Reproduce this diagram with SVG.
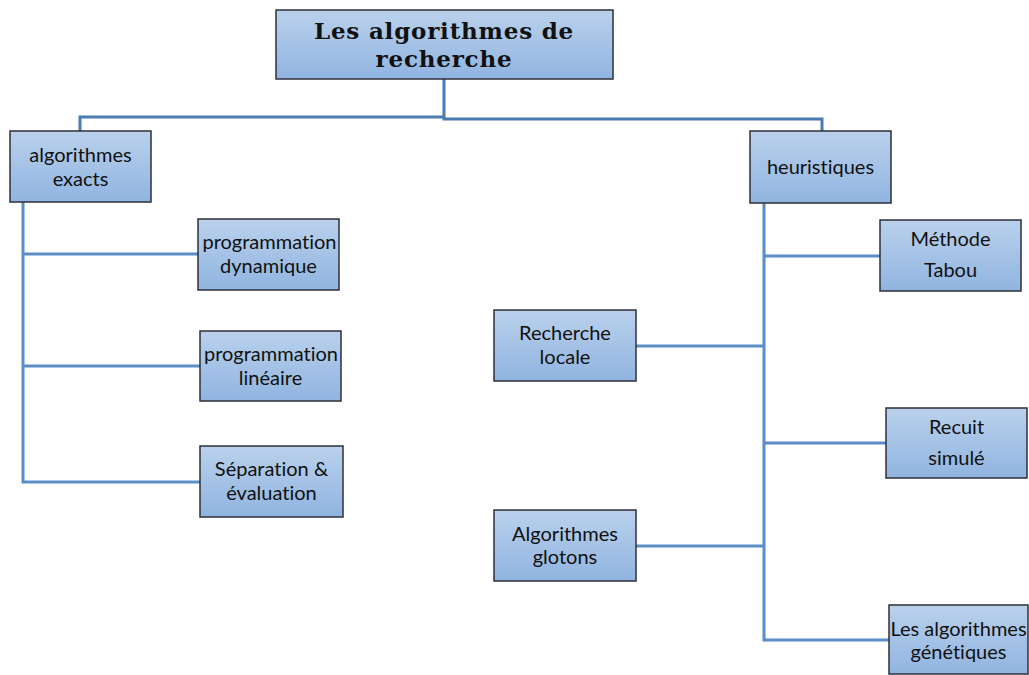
<svg xmlns="http://www.w3.org/2000/svg" width="1029" height="675" viewBox="0 0 1029 675">
  <defs>
    <linearGradient id="boxFill" x1="0" y1="0" x2="0" y2="1">
      <stop offset="0" stop-color="#bad1ec"/>
      <stop offset="1" stop-color="#90b4e0"/>
    </linearGradient>
    <style>
      .box { fill: url(#boxFill); stroke: #2e3138; stroke-width: 1.5; }
      .lbl { font-family: Lato, "Open Sans", sans-serif; font-size: 20px; fill: #111; text-anchor: middle; font-variant-ligatures: none; }
      .title { font-family: "DejaVu Serif", serif; font-weight: bold; font-size: 23px; letter-spacing: 0.8px; fill: #111; text-anchor: middle; }
      .wire { fill: none; stroke: #5b8ec6; stroke-width: 3; }
      .wire-top { fill: none; stroke: #4a7cb0; stroke-width: 3; }
    </style>
  </defs>
  <rect width="1029" height="675" fill="#ffffff"/>

  <g id="connectors">
    <polyline class="wire-top" points="80,131 80,117 444,117 444,79"/>
    <polyline class="wire-top" points="444,117 444,119 822,119 822,131"/>
    <polyline class="wire" points="23,202 23,482 200,482"/>
    <line class="wire" x1="23" y1="254" x2="198" y2="254"/>
    <line class="wire" x1="23" y1="366" x2="200" y2="366"/>
    <polyline class="wire" points="764,203 764,640 889,640"/>
    <line class="wire" x1="764" y1="256" x2="880" y2="256"/>
    <line class="wire" x1="764" y1="346" x2="636" y2="346"/>
    <line class="wire" x1="764" y1="443" x2="886" y2="443"/>
    <line class="wire" x1="764" y1="546" x2="636" y2="546"/>
  </g>

  <g id="root">
    <rect class="box" x="276" y="10" width="337" height="69"/>
    <text class="title" x="444" y="39">Les algorithmes de</text>
    <text class="title" x="444" y="67">recherche</text>
  </g>

  <g id="exacts">
    <rect class="box" x="10" y="131" width="141" height="71"/>
    <text class="lbl" x="80.5" y="162">algorithmes</text>
    <text class="lbl" x="80.5" y="186">exacts</text>
  </g>

  <g id="prog-dyn">
    <rect class="box" x="198" y="219" width="141" height="71"/>
    <text class="lbl" x="269.5" y="249">programmation</text>
    <text class="lbl" x="268.5" y="273">dynamique</text>
  </g>

  <g id="prog-lin">
    <rect class="box" x="200" y="331" width="141" height="70"/>
    <text class="lbl" x="271" y="361">programmation</text>
    <text class="lbl" x="270.5" y="385">linéaire</text>
  </g>

  <g id="separation">
    <rect class="box" x="200" y="446" width="143" height="71"/>
    <text class="lbl" x="271.5" y="476">Séparation &amp;</text>
    <text class="lbl" x="271.5" y="500">évaluation</text>
  </g>

  <g id="heuristiques">
    <rect class="box" x="750" y="131" width="141" height="72"/>
    <text class="lbl" x="820.5" y="174">heuristiques</text>
  </g>

  <g id="tabou">
    <rect class="box" x="880" y="220" width="141" height="71"/>
    <text class="lbl" x="950.5" y="246">Méthode</text>
    <text class="lbl" x="950.5" y="277">Tabou</text>
  </g>

  <g id="recherche-locale">
    <rect class="box" x="494" y="310" width="142" height="71"/>
    <text class="lbl" x="565" y="340">Recherche</text>
    <text class="lbl" x="565" y="364">locale</text>
  </g>

  <g id="recuit">
    <rect class="box" x="886" y="408" width="141" height="70"/>
    <text class="lbl" x="956.5" y="434">Recuit</text>
    <text class="lbl" x="956.5" y="465">simulé</text>
  </g>

  <g id="glotons">
    <rect class="box" x="494" y="510" width="142" height="71"/>
    <text class="lbl" x="565" y="541">Algorithmes</text>
    <text class="lbl" x="565" y="564">glotons</text>
  </g>

  <g id="genetiques">
    <rect class="box" x="889" y="605" width="139" height="69"/>
    <text class="lbl" x="958.5" y="636">Les algorithmes</text>
    <text class="lbl" x="958.5" y="659">génétiques</text>
  </g>
</svg>
